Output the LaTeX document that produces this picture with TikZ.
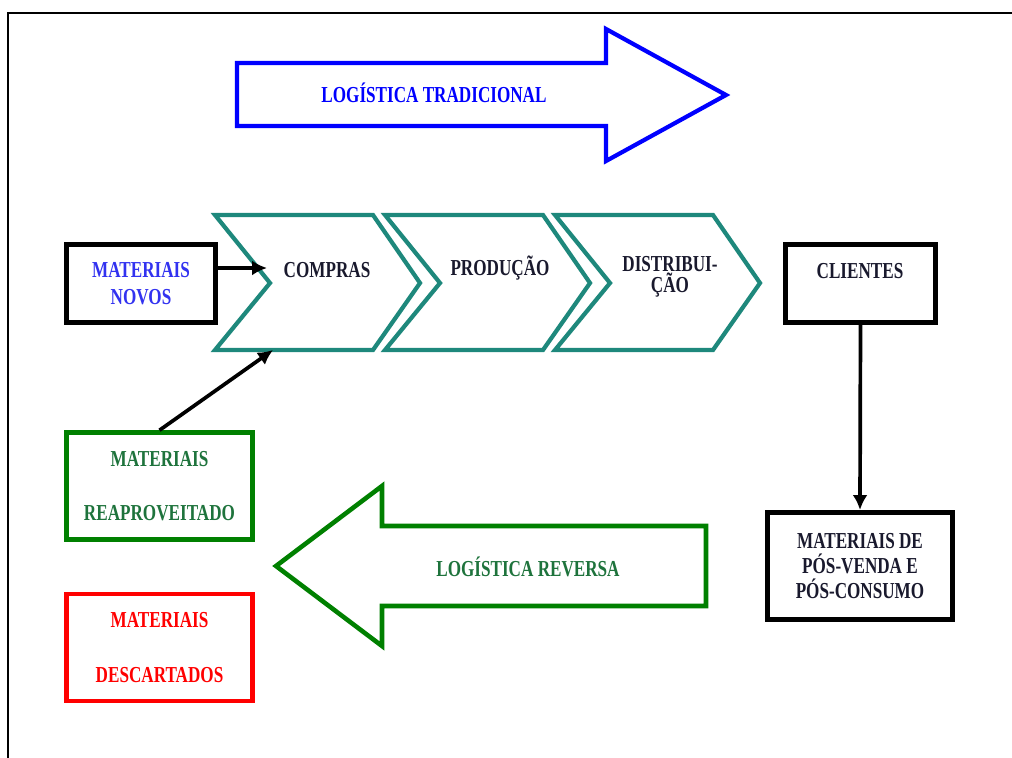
\documentclass[tikz,border=0pt]{standalone}
\usepackage{fontspec}
\newfontfamily\estreita[FakeStretch=0.75]{Liberation Serif}
\usetikzlibrary{positioning,arrows.meta}
\definecolor{verdeazul}{RGB}{30,136,124}
\definecolor{verdeseta}{RGB}{0,128,0}
\definecolor{verdetexto}{RGB}{30,115,60}
\definecolor{azultexto}{RGB}{50,50,240}
\definecolor{escuro}{RGB}{25,25,45}

\begin{document}
\begin{tikzpicture}[x=0.02cm,y=-0.02cm,
  texto/.style={font=\estreita\bfseries\fontsize{13}{15}\selectfont, align=center, inner sep=0pt, text=escuro},
  caixa/.style={draw, line width=2.9pt, inner sep=0pt, align=center, font=\estreita\bfseries\fontsize{13}{15}\selectfont},
  chevron/.style={draw=verdeazul, line width=2.4pt, line join=miter},
  setagrande/.style={line width=2.4pt, line join=miter},
  seta/.style={line width=2.1pt, -{Latex[length=8.5pt,width=8.5pt]}}]
  \useasboundingbox (0,0) rectangle (1012,758);

  % Moldura
  \draw[line width=1.2pt] (8,758) -- (8,13) -- (1012,13);

  % Logistica tradicional
  \draw[setagrande, draw=blue] (237,63) -- (606,63) -- (606,29) -- (726,95) -- (606,161) -- (606,126) -- (237,126) -- cycle;
  \node[texto, text=blue] (tradicional) at (434,93) {LOGÍSTICA TRADICIONAL};

  % Cadeia
  \foreach \dx in {0,170,340}
    \draw[chevron, shift={(\dx,0)}] (215,215) -- ++(158,0) -- ++(47,68) -- ++(-47,67) -- ++(-158,0) -- ++(55,-67) -- cycle;
  \node[texto] (compras) at (327,270) {COMPRAS};
  \node[texto] (producao) at (500,268) {PRODUÇÃO};
  \node[texto] (distribuicao) at (670,277) {DISTRIBUI-\\[-3pt]ÇÃO};

  % Caixas
  \node[caixa, text=azultexto, minimum width=2.98cm, minimum height=1.56cm] (novos) at (141,283.5) {MATERIAIS\\NOVOS};
  \node[caixa, minimum width=3.0cm, minimum height=1.56cm] (clientes) at (860.5,283.5) {};
  \node[texto] (clientestxt) at (860,271) {CLIENTES};
  \node[caixa, text=escuro, minimum width=3.7cm, minimum height=2.14cm] (posvenda) at (860,566) {MATERIAIS DE\\[-1pt]PÓS-VENDA E\\[-1pt]PÓS-CONSUMO};
  \node[caixa, draw=verdeseta, text=verdetexto, line width=2.6pt, minimum width=3.72cm, minimum height=2.14cm] (reaproveitado) at (159.5,486) {MATERIAIS\\[16pt]REAPROVEITADO};
  \node[caixa, draw=red, text=red, line width=2.6pt, minimum width=3.72cm, minimum height=2.14cm] (descartados) at (159.5,647.5) {MATERIAIS\\[16pt]DESCARTADOS};

  % Logistica reversa
  \draw[setagrande, draw=verdeseta, line width=2.6pt] (276,566) -- (382,486) -- (382,526) -- (706,526) -- (706,606) -- (382,606) -- (382,646) -- cycle;
  \node[texto, text=verdetexto] (reversa) at (528,567) {LOGÍSTICA REVERSA};

  % Setas
  \coordinate (entrada) at (267,268);
  \coordinate (retorno) at (273,350);
  \draw[seta] (novos.east |- entrada) -- (entrada);
  \draw[seta] (reaproveitado.north) -- (retorno);
  \draw[seta] (clientes.south) -- (posvenda.north);
\end{tikzpicture}
\end{document}
